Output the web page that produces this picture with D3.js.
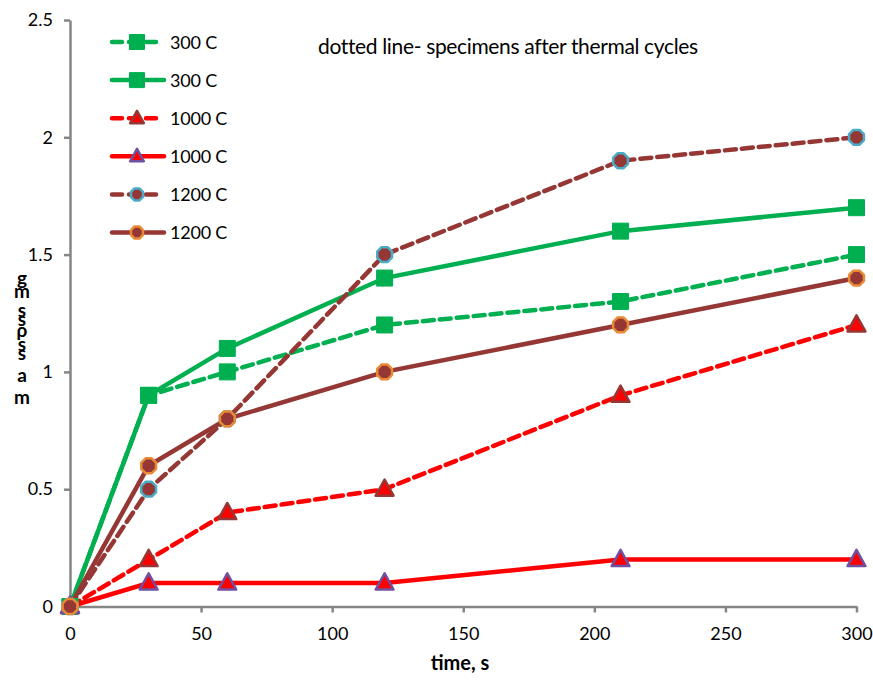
<!DOCTYPE html>
<html>
<head>
    <style>
        body { margin: 0; background: #fff; }
        text { font-family: Lato, "Open Sans", sans-serif; fill: #000; }
        .domain, .tick line { stroke: #868686; stroke-width: 2.5px; }
    </style>
    <script src="https://d3js.org/d3.v7.min.js"></script>
</head>
<body>
    <svg width="873" height="681"></svg>
    <script>

        var times = [0, 30, 60, 120, 210, 300];
        var labels = ["300 C", "300 C", "1000 C", "1000 C", "1200 C", "1200 C"];
        var s300dot = [0, 0.9, 1.0, 1.2, 1.3, 1.5];
        var s300 = [0, 0.9, 1.1, 1.4, 1.6, 1.7];
        var s1000dot = [0, 0.2, 0.4, 0.5, 0.9, 1.2];
        var s1000 = [0, 0.1, 0.1, 0.1, 0.2, 0.2];
        var s1200dot = [0, 0.5, 0.8, 1.5, 1.9, 2.0];
        var s1200 = [0, 0.6, 0.8, 1.0, 1.2, 1.4];
        var xTicks = [0, 50, 100, 150, 200, 250, 300];
        var yTicks = [0, 0.5, 1, 1.5, 2, 2.5];

        var series = [
            { name: labels[0], values: s300dot, color: "#00b050", dash: true, marker: "square", mfill: "#00b050", mstroke: "#00b050" },
            { name: labels[1], values: s300, color: "#00b050", dash: false, marker: "square", mfill: "#00b050", mstroke: "#00b050" },
            { name: labels[2], values: s1000dot, color: "#ff0000", dash: true, marker: "triangle", mfill: "#ff0000", mstroke: "#953735" },
            { name: labels[3], values: s1000, color: "#ff0000", dash: false, marker: "triangle", mfill: "#ff0000", mstroke: "#7050a0" },
            { name: labels[4], values: s1200dot, color: "#953735", dash: true, marker: "octagon", mfill: "#953735", mstroke: "#4bacc6" },
            { name: labels[5], values: s1200, color: "#953735", dash: false, marker: "octagon", mfill: "#953735", mstroke: "#e88a36" }
        ];

        var svg = d3.select("svg");

        var x = d3.scaleLinear().domain([0, 300]).range([70, 856.5]);
        var y = d3.scaleLinear().domain([0, 2.5]).range([606.5, 20]);

        svg.append("g")
           .attr("transform", "translate(0,606.5)")
           .call(d3.axisBottom(x).tickValues(xTicks).tickSize(6).tickSizeOuter(0).tickPadding(15))
           .selectAll("text").style("font-size", "18px").style("font-family", "Lato, sans-serif");

        svg.append("g")
           .attr("transform", "translate(70,0)")
           .call(d3.axisLeft(y).tickValues(yTicks).tickSize(6).tickSizeOuter(0).tickPadding(11)
                 .tickFormat(function(d) { return d; }))
           .selectAll("text").style("font-size", "18px").style("font-family", "Lato, sans-serif");

        var line = d3.line()
                     .x(function(d, i) { return x(times[i]); })
                     .y(function(d) { return y(d); });

        function markerPath(type, size) {
            if (type == "square") {
                return d3.symbol().type(d3.symbolSquare).size(size * size)();
            }
            if (type == "triangle") {
                var h = size * 0.95, w = size * 1.05;
                return "M0," + (-h * 0.6) + "L" + (w / 2) + "," + (h * 0.4) + "L" + (-w / 2) + "," + (h * 0.4) + "Z";
            }
            var r = size / 2, pts = [];
            for (var k = 0; k < 8; k++) {
                var a = Math.PI / 8 + k * Math.PI / 4;
                pts.push([r * Math.cos(a), r * Math.sin(a)]);
            }
            return "M" + pts.join("L") + "Z";
        }

        var g = svg.append("g");
        series.forEach(function(s) {
            g.append("path")
             .datum(s.values)
             .attr("d", line)
             .attr("fill", "none")
             .attr("stroke", s.color)
             .attr("stroke-width", 4.5)
             .attr("stroke-dasharray", s.dash ? "11,6" : null)
             .attr("stroke-linecap", s.dash ? "round" : "butt");
        });

        series.forEach(function(s) {
            g.selectAll(null)
             .data(s.values)
             .enter().append("path")
             .attr("transform", function(d, i) { return "translate(" + x(times[i]) + "," + y(d) + ")"; })
             .attr("d", markerPath(s.marker, s.marker == "square" ? 16 : (s.marker == "triangle" ? 17 : 16)))
             .attr("fill", s.mfill)
             .attr("stroke", s.mstroke)
             .attr("stroke-width", s.marker == "square" ? 1 : 2.5)
             .attr("stroke-linejoin", "round");
        });

        // legend
        var legend = svg.append("g");
        series.forEach(function(s, i) {
            var ly = 42 + i * 38.1;
            var item = legend.append("g").attr("transform", "translate(0," + ly + ")");
            item.append("line")
                .attr("x1", 112).attr("x2", s.dash ? 158 : 164)
                .attr("y1", 0).attr("y2", 0)
                .attr("stroke", s.color)
                .attr("stroke-width", 4.5)
                .attr("stroke-dasharray", s.dash ? "10,7" : null)
                .attr("stroke-linecap", "round");
            item.append("path")
                .attr("transform", "translate(137,0)")
                .attr("d", markerPath(s.marker, s.marker == "square" ? 15 : 13))
                .attr("fill", s.mfill)
                .attr("stroke", s.mstroke)
                .attr("stroke-width", s.marker == "square" ? 1 : 2.5)
                .attr("stroke-linejoin", "round");
            item.append("text")
                .attr("x", 170).attr("y", 6.5)
                .style("font-size", "18px")
                .style("letter-spacing", "-0.2px")
                .text(s.name);
        });

        svg.append("text")
           .attr("x", 318).attr("y", 54)
           .style("font-size", "21px")
           .style("letter-spacing", "-0.35px")
           .text("dotted line- specimens after thermal cycles");

        svg.append("text")
           .attr("x", 460).attr("y", 670)
           .attr("text-anchor", "middle")
           .style("font-size", "20px")
           .style("font-weight", "bold")
           .text("time, s");

        // y axis title, letters stacked as in the picture
        var yLetters = ["g", "m", "s", "s", "\u03c1", "s", "s", "a", "m"];
        var yPos = [285, 298, 317, 326, 337, 351, 360, 382, 404];
        svg.append("g").selectAll("text")
           .data(yLetters)
           .enter().append("text")
           .attr("x", 22).attr("y", function(d, i) { return yPos[i]; })
           .attr("text-anchor", "middle")
           .style("font-size", "19px")
           .style("font-weight", "bold")
           .text(function(d) { return d; });

    </script>
</body>
</html>
